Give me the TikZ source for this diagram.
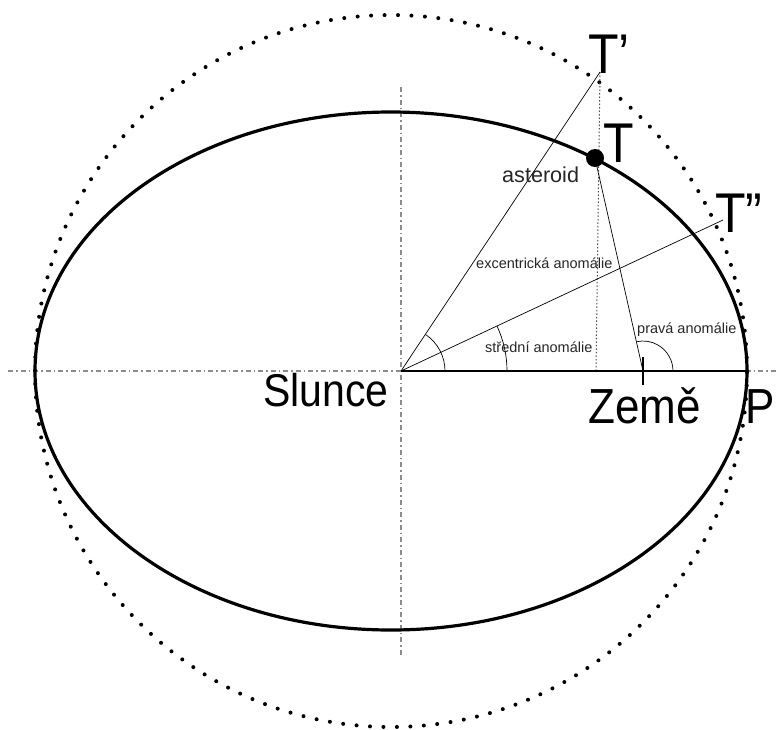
\documentclass[tikz,border=0pt]{standalone}
\usepackage{fontspec}
\setmainfont{Liberation Sans}
\usetikzlibrary{calc}
\newcommand{\tallbox}[1]{\scalebox{1}[1.12]{#1}}
\begin{document}
\begin{tikzpicture}[x=1pt,y=-1pt,
  axisline/.style={draw=black!45,line width=1.4pt,dash pattern=on 5pt off 3pt on 1.5pt off 3pt},
  orbit/.style={draw=black,line width=3.2pt},
  guide/.style={draw=black,line width=0.7pt},
  anglearc/.style={draw=black,line width=0.7pt},
  helper/.style={draw=black!70,line width=1pt,dash pattern=on 1.5pt off 2pt},
  bigcircle/.style={draw=black,line width=4pt,line cap=round,dash pattern=on 0pt off 13.47pt},
  smalllabel/.style={inner sep=0pt,anchor=base west,font=\fontsize{14.5}{16}\selectfont,text=black!85},
  biglabel/.style={inner sep=0pt,anchor=base west,text=black}
]
\useasboundingbox (0,0) rectangle (776,729);
% key points
\coordinate (O) at (391,371);
\coordinate (S) at (401,371);
\coordinate (Tp) at (600,72);
\coordinate (T) at (595,158);
\coordinate (Tpp) at (723,220);
\coordinate (E) at (643,371);
\coordinate (P) at (747,371);
\coordinate (TpFoot) at (596,371);
\coordinate (Eup) at (643,357);
\coordinate (Edown) at (643,385);
\coordinate (AxL) at (8,371);
\coordinate (AxR) at (776,371);
\coordinate (AxT) at (401,87);
\coordinate (AxB) at (401,655);
% axes
\draw[axisline] (AxL) -- (AxR);
\draw[axisline] (AxT) -- (AxB);
% dotted circle
\draw[bigcircle] (O) circle[radius=356pt];
% orbit ellipse
\draw[orbit] (O) ellipse[x radius=356pt, y radius=259pt];
% helper vertical
\draw[helper] (Tp) -- (TpFoot);
% lines
\draw[guide] (S) -- (Tp);
\draw[guide] (S) -- (Tpp);
\draw[guide] (T) -- (E);
\draw[black,line width=2.4pt] (S) -- (P);
\draw[black,line width=1.4pt] (Eup) -- (Edown);
% angle arcs
\draw[anglearc] ($(S)+(44pt,0pt)$) arc[start angle=0,end angle=56,radius=44pt];
\draw[anglearc] ($(S)+(106pt,0pt)$) arc[start angle=0,end angle=25,radius=106pt];
\draw[anglearc] ($(E)+(30pt,0pt)$) arc[start angle=0,end angle=102.7,radius=30pt];
% asteroid
\fill[black] (T) circle[radius=9pt];
% labels
\node[biglabel,font=\fontsize{50}{50}\selectfont] (lTp) at (588,73) {\tallbox{T’}};
\node[biglabel,font=\fontsize{50}{50}\selectfont] (lT) at (603,162) {\tallbox{T}};
\node[biglabel,font=\fontsize{50}{50}\selectfont] (lTpp) at (715,232) {\tallbox{T”}};
\node[biglabel,font=\fontsize{41}{41}\selectfont] (lS) at (263,406) {\tallbox{Slunce}};
\node[biglabel,font=\fontsize{44}{44}\selectfont] (lE) at (588,423) {\tallbox{Země}};
\node[biglabel,font=\fontsize{44}{44}\selectfont] (lP) at (745.5,423) {\tallbox{P}};
\node[biglabel,font=\fontsize{21.6}{22}\selectfont,text=black!85] (lA) at (502,182) {asteroid};
\node[smalllabel] (lEA) at (476,268) {excentrická anomálie};
\node[smalllabel] (lMA) at (485,352) {střední anomálie};
\node[smalllabel] (lTA) at (637,333) {pravá anomálie};
\end{tikzpicture}
\end{document}
